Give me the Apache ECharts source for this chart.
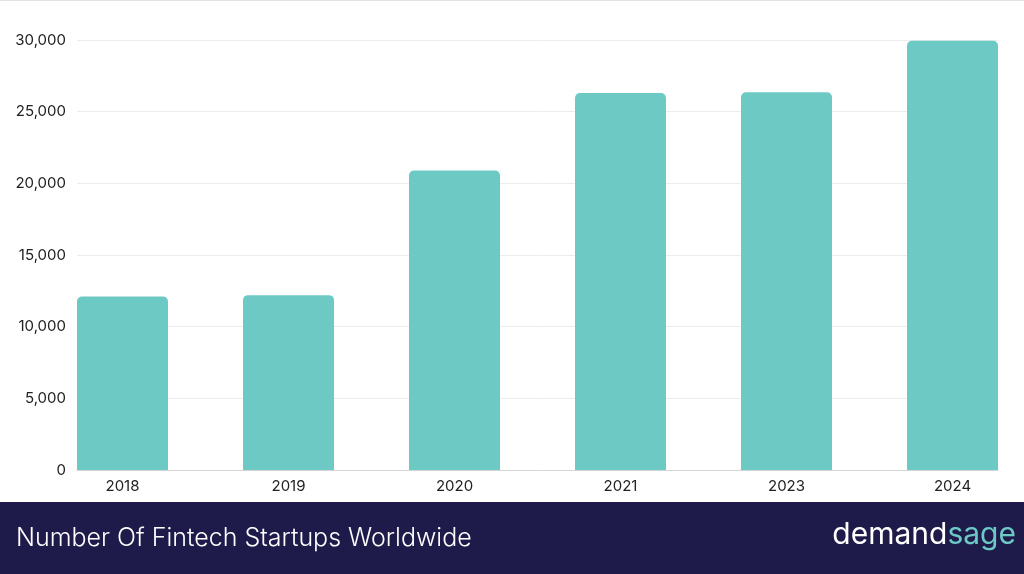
<!DOCTYPE html>
<html>
<head>
<meta charset="utf-8">
<script src="https://cdn.jsdelivr.net/npm/echarts@6/dist/echarts.min.js"></script>
<style>
  html, body { margin: 0; padding: 0; background: #fff; }
  #main { width: 1024px; height: 574px; }
</style>
</head>
<body>
<div id="main"></div>
<script>
const years = ["2018", "2019", "2020", "2021", "2023", "2024"];
const startups = [12100, 12200, 20900, 26300, 26350, 29950];
const yTicks = [0, 5000, 10000, 15000, 20000, 25000, 30000];

const chart = echarts.init(document.getElementById("main"));
const font = "Inter, 'Liberation Sans', sans-serif";

// bars sit on a value x axis so the first and last bar touch the axis ends
const barWidth = 91;
const plotWidth = 921;
const step = (plotWidth - barWidth) / (years.length - 1);
const halfBar = barWidth / 2 / step;

const option = {
  backgroundColor: "#ffffff",
  animation: false,
  grid: { left: 77, right: 26, top: 40, bottom: 104 },
  xAxis: {
    type: "value",
    min: -halfBar,
    max: years.length - 1 + halfBar,
    axisLine: { show: true, onZero: false, lineStyle: { color: "#d6d6d6", width: 1 } },
    axisTick: { show: false },
    splitLine: { show: false },
    axisLabel: {
      customValues: years.map((y, i) => i),
      formatter: (v) => years[Math.round(v)],
      color: "#222",
      fontSize: 15,
      fontFamily: font,
      margin: 9
    }
  },
  yAxis: {
    type: "value",
    min: yTicks[0],
    max: yTicks[yTicks.length - 1],
    interval: 5000,
    axisLine: { show: false },
    axisTick: { show: false },
    splitLine: { lineStyle: { color: "#ececec", width: 1 } },
    axisLabel: {
      color: "#222",
      fontSize: 15,
      fontFamily: font,
      margin: 11,
      formatter: (v) => v.toLocaleString("en-US")
    }
  },
  series: [
    {
      type: "bar",
      data: startups.map((v, i) => [i, v]),
      barWidth: barWidth,
      itemStyle: { color: "#6cc9c4", borderRadius: [5, 5, 0, 0] }
    }
  ],
  graphic: [
    {
      type: "rect",
      shape: { x: 0, y: 0, width: 1024, height: 1 },
      style: { fill: "#e2e2e2" }
    },
    {
      type: "rect",
      shape: { x: 0, y: 502, width: 1024, height: 72 },
      style: { fill: "#1e1a4a" }
    },
    {
      type: "text",
      left: 16,
      top: 526,
      style: {
        text: "Number Of Fintech Startups Worldwide",
        fill: "#ffffff",
        font: "300 25px " + font
      }
    },
    {
      type: "text",
      right: 8,
      top: 520,
      style: {
        text: "{a|demand}{b|sage}",
        rich: {
          a: { fill: "#ffffff", fontSize: 30, fontFamily: font, fontWeight: 400 },
          b: { fill: "#6cc9c4", fontSize: 30, fontFamily: font, fontWeight: 400 }
        }
      }
    }
  ]
};

chart.setOption(option);
</script>
</body>
</html>
